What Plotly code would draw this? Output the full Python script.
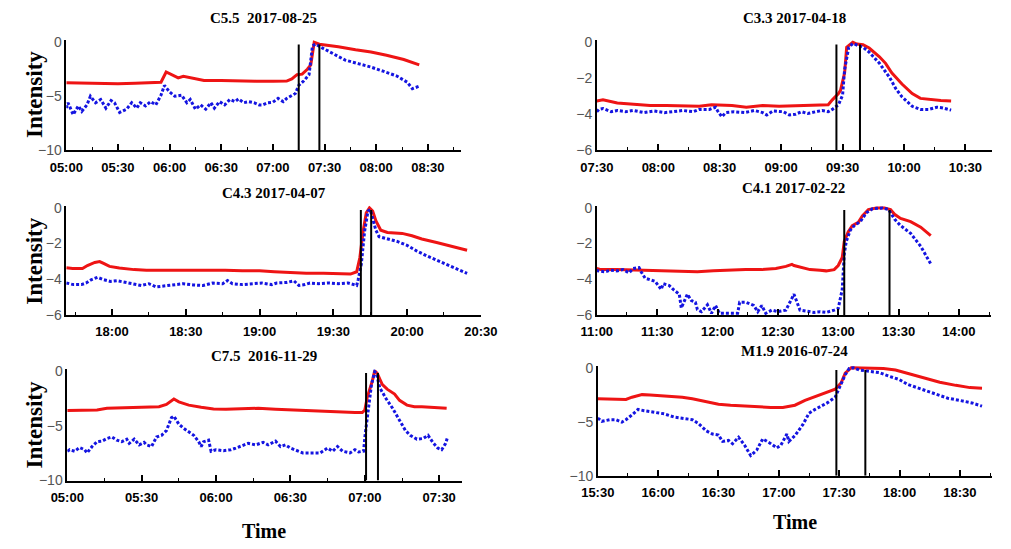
import pandas as pd
import plotly.graph_objects as go

# ---------------- data ----------------
p1_date = "2017-08-25"
p1_title = "C5.5  2017-08-25"
p1_red_t = ["05:00","05:10","05:20","05:30","05:40","05:50","05:55","05:58","06:02","06:05","06:08","06:12","06:16","06:20","06:30","06:40","06:50","07:00","07:08","07:11","07:14","07:17","07:20","07:22","07:24","07:27","07:38","07:48","07:57","08:06","08:16","08:25"]
p1_red_v = [-3.75,-3.8,-3.82,-3.85,-3.8,-3.75,-3.7,-2.75,-3.1,-3.3,-3.15,-3.3,-3.45,-3.55,-3.55,-3.6,-3.6,-3.62,-3.6,-3.4,-3.0,-2.95,-2.5,-2.1,0.0,-0.18,-0.41,-0.7,-0.91,-1.2,-1.6,-2.1]
p1_blue_t = ["05:00","05:01","05:04","05:07","05:09","05:12","05:14","05:17","05:20","05:23","05:26","05:28","05:31","05:35","05:38","05:41","05:43","05:46","05:49","05:52","05:55","05:57","06:00","06:03","06:07","06:10","06:12","06:15","06:18","06:21","06:24","06:26","06:29","06:32","06:35","06:38","06:40","06:43","06:46","06:49","06:52","06:54","06:57","07:00","07:03","07:06","07:08","07:11","07:13","07:15","07:18","07:21","07:22","07:23","07:25","07:28","07:35","07:42","07:50","07:57","08:04","08:12","08:18","08:21","08:25"]
p1_blue_v = [-6.1,-5.6,-6.7,-5.9,-6.4,-5.8,-5.0,-5.6,-5.3,-6.1,-5.4,-5.6,-6.5,-6.2,-5.6,-6.1,-5.6,-5.9,-5.5,-5.8,-4.9,-4.0,-4.6,-5.0,-4.9,-5.6,-5.3,-6.2,-5.8,-6.2,-5.6,-6.1,-5.5,-5.8,-5.3,-5.5,-5.25,-5.6,-5.5,-5.6,-5.8,-5.8,-5.6,-5.55,-5.2,-5.5,-5.2,-4.95,-4.75,-4.0,-3.57,-3.0,-1.65,-0.32,-0.18,-0.47,-1.06,-1.65,-2.0,-2.3,-2.68,-3.13,-3.7,-4.3,-4.07]
p1_vlines = ["07:15","07:27"]
p1_xrange = ["05:00","08:49"]
p1_yticks = [-10,-5,0]

p2_date = "2017-04-18"
p2_title = "C3.3 2017-04-18"
p2_red_t = ["07:30","07:33","07:40","07:48","07:56","08:04","08:12","08:20","08:26","08:36","08:43","08:51","08:59","09:07","09:15","09:23","09:25","09:28","09:29","09:31","09:32","09:35","09:37","09:40","09:43","09:48","09:51","09:54","09:59","10:04","10:08","10:13","10:18","10:23"]
p2_red_v = [-3.26,-3.2,-3.38,-3.47,-3.52,-3.52,-3.56,-3.56,-3.47,-3.52,-3.61,-3.52,-3.56,-3.52,-3.5,-3.47,-3.2,-2.85,-2.67,-1.7,-0.28,0.0,-0.1,-0.14,-0.32,-0.81,-1.17,-1.7,-2.32,-2.85,-3.12,-3.2,-3.24,-3.26]
p2_blue_t = ["07:30","07:31","07:33","07:37","07:40","07:44","07:48","07:53","07:58","08:03","08:07","08:12","08:17","08:20","08:25","08:28","08:29","08:31","08:33","08:37","08:42","08:47","08:51","08:53","08:56","09:01","09:04","09:07","09:10","09:13","09:17","09:20","09:23","09:25","09:28","09:30","09:31","09:33","09:35","09:38","09:40","09:43","09:48","09:53","09:56","09:59","10:04","10:08","10:12","10:16","10:19","10:23"]
p2_blue_v = [-3.86,-3.73,-3.68,-3.86,-3.79,-3.86,-3.79,-3.91,-3.82,-3.91,-3.86,-3.79,-3.86,-3.73,-3.73,-3.61,-3.82,-4.14,-3.91,-3.86,-3.91,-3.79,-3.91,-4.04,-3.82,-3.86,-4.04,-4.0,-3.86,-3.96,-3.86,-3.79,-3.86,-3.73,-3.47,-2.94,-1.52,-0.28,-0.07,-0.19,-0.28,-0.55,-1.17,-1.96,-2.58,-3.03,-3.56,-3.73,-3.73,-3.61,-3.65,-3.77]
p2_vlines = ["09:27","09:38:30"]
p2_xrange = ["07:30","10:43"]
p2_yticks = [-6,-4,-2,0]

p3_date = "2017-04-07"
p3_title = "C4.3 2017-04-07"
p3_red_t = ["17:41:25","17:44","17:48","17:50","17:53","17:55","17:57","17:59","18:03","18:09","18:14","18:20","18:27","18:33","18:40","18:46","18:53","19:00","19:06","19:13","19:19","19:26","19:32","19:37","19:39:30","19:40:48","19:42:06","19:43:24","19:44:42","19:46","19:47:18","19:49:18","19:52","19:56","19:58","20:02","20:06","20:12","20:17","20:21","20:24:24"]
p3_red_v = [-3.35,-3.4,-3.4,-3.23,-3.06,-3.01,-3.14,-3.28,-3.37,-3.46,-3.49,-3.49,-3.46,-3.46,-3.49,-3.49,-3.53,-3.53,-3.58,-3.64,-3.67,-3.67,-3.71,-3.71,-3.58,-2.78,-1.34,-0.27,0.0,-0.18,-0.72,-1.25,-1.38,-1.4,-1.43,-1.56,-1.74,-1.94,-2.11,-2.24,-2.37]
p3_blue_t = ["17:41:25","17:44:18","17:47:34","17:49:30","17:51:30","17:54:06","17:56:42","17:59:20","18:02","18:06","18:10","18:12","18:15","18:18","18:22","18:26","18:29","18:33","18:37","18:41","18:45","18:47","18:49","18:53","18:57","19:01","19:05","19:07","19:11","19:14","19:16","19:18:30","19:20:30","19:24","19:28","19:32","19:36","19:39:30","19:40:06","19:41:24","19:42:42","19:44:06","19:45","19:46","19:47:18","19:48:36","19:52","19:56","20:00","20:04","20:08","20:12","20:15:30","20:19:24","20:22","20:24:24"]
p3_blue_v = [-4.21,-4.3,-4.3,-4.21,-4.03,-3.89,-4.03,-4.12,-4.08,-4.21,-4.3,-4.35,-4.25,-4.43,-4.35,-4.3,-4.25,-4.32,-4.35,-4.21,-4.25,-4.07,-4.25,-4.3,-4.25,-4.21,-4.3,-4.21,-4.18,-4.09,-4.35,-4.3,-4.21,-4.25,-4.21,-4.25,-4.21,-4.35,-4.03,-3.14,-1.34,-0.18,-0.09,-0.63,-1.25,-1.61,-1.74,-1.88,-2.1,-2.42,-2.69,-2.92,-3.14,-3.35,-3.49,-3.67]
p3_vlines = ["19:41:12","19:45:24"]
p3_xrange = ["17:41:25","20:30"]
p3_yticks = [-6,-4,-2,0]

p4_date = "2017-02-22"
p4_title = "C4.1 2017-02-22"
p4_red_t = ["11:00","11:02","11:10","11:18","11:26","11:34","11:42","11:50","11:58","12:06","12:14","12:22","12:29","12:34","12:37","12:38","12:42","12:46","12:51","12:54","12:58","13:00","13:02","13:03","13:05","13:07","13:10","13:12","13:15","13:19","13:23","13:26","13:28","13:31","13:36","13:41","13:46"]
p4_red_v = [-3.4,-3.46,-3.46,-3.49,-3.49,-3.53,-3.55,-3.58,-3.53,-3.49,-3.46,-3.46,-3.4,-3.28,-3.17,-3.23,-3.35,-3.46,-3.49,-3.53,-3.46,-3.23,-2.78,-1.88,-1.34,-0.99,-0.81,-0.45,-0.09,0.0,0.0,-0.09,-0.36,-0.59,-0.77,-1.08,-1.56]
p4_blue_t = ["11:00","11:00:30","11:04","11:07","11:10","11:13","11:16","11:18","11:21","11:22","11:24","11:26","11:29","11:32","11:33","11:36","11:38","11:41","11:42","11:45","11:47","11:49","11:50","11:52","11:55","11:57","11:59","12:01","12:06","12:10","12:11","12:14","12:18","12:20","12:22","12:24","12:27","12:30","12:34","12:37","12:38","12:41","12:45","12:48","12:51","12:54","12:58","13:00","13:02","13:03","13:04","13:06","13:08","13:11","13:14","13:17","13:22","13:25","13:28","13:31","13:36","13:41","13:46"]
p4_blue_v = [-3.46,-3.53,-3.58,-3.49,-3.53,-3.46,-3.64,-3.4,-3.35,-3.58,-3.94,-4.03,-4.12,-4.57,-4.25,-4.35,-4.57,-4.84,-5.61,-4.84,-5.2,-5.29,-5.7,-5.82,-5.43,-5.91,-5.47,-5.91,-5.91,-5.91,-5.29,-5.29,-5.47,-5.82,-5.47,-5.91,-5.73,-5.82,-5.73,-5.0,-4.84,-5.73,-5.79,-5.86,-5.82,-5.86,-5.73,-5.64,-4.57,-2.6,-1.88,-1.25,-0.99,-0.77,-0.27,-0.05,0.0,-0.09,-0.63,-0.99,-1.43,-2.15,-3.14]
p4_vlines = ["13:03","13:25:30"]
p4_xrange = ["11:00","14:16"]
p4_yticks = [-6,-4,-2,0]

p5_date = "2016-11-29"
p5_title = "C7.5  2016-11-29"
p5_red_t = ["05:00","05:06","05:12","05:16","05:21","05:27","05:32","05:37","05:40","05:42","05:43","05:45","05:49","05:54","05:59","06:04","06:11","06:17","06:24","06:30","06:37","06:43","06:50","06:56","06:59","07:00","07:01","07:03","07:04","07:05","07:07","07:09","07:12","07:14","07:17","07:20","07:23","07:29","07:33"]
p5_red_v = [-3.62,-3.62,-3.57,-3.42,-3.38,-3.33,-3.33,-3.28,-3.07,-2.7,-2.58,-2.84,-3.13,-3.33,-3.48,-3.51,-3.48,-3.42,-3.51,-3.57,-3.62,-3.71,-3.74,-3.8,-3.8,-3.57,-2.4,-0.96,0.0,-0.23,-1.25,-1.68,-2.12,-2.7,-3.13,-3.28,-3.28,-3.33,-3.42]
p5_blue_t = ["05:00","05:01","05:03","05:05","05:07","05:08","05:10","05:12","05:14","05:16","05:18","05:20","05:22","05:24","05:25","05:27","05:29","05:31","05:32","05:34","05:36","05:38","05:40","05:42","05:43","05:45","05:47","05:49","05:51","05:53","05:54","05:55","05:57","05:58","06:00","06:03","06:06","06:08","06:11","06:13","06:16","06:19","06:21","06:24","06:26","06:28","06:30","06:32","06:33","06:35","06:38","06:42","06:45","06:47","06:49","06:51","06:54","06:56","06:57:30","06:59:30","07:00:06","07:01:24","07:02:42","07:04","07:04:40","07:06","07:08:36","07:11:12","07:13:48","07:16:24","07:18:18","07:21","07:23:30","07:25:30","07:27:24","07:29:24","07:31","07:32:36","07:33:12"]
p5_blue_v = [-7.33,-7.19,-7.33,-6.99,-7.19,-7.48,-6.9,-6.46,-6.41,-6.17,-6.03,-6.32,-6.46,-6.23,-6.61,-6.23,-6.75,-6.52,-6.75,-6.9,-6.03,-5.88,-5.45,-4.29,-4.14,-4.87,-5.25,-5.54,-5.88,-6.46,-6.9,-6.46,-6.32,-7.33,-7.19,-7.28,-7.19,-7.04,-6.75,-6.61,-6.75,-6.52,-6.75,-6.41,-6.9,-6.75,-7.04,-7.19,-7.33,-7.48,-7.48,-7.48,-7.04,-7.33,-6.9,-7.33,-7.48,-7.19,-7.39,-7.33,-5.88,-3.57,-1.25,-0.09,-0.23,-1.54,-2.55,-3.42,-4.43,-5.45,-5.88,-6.23,-6.17,-5.88,-6.52,-7.04,-7.19,-6.61,-6.17]
p5_vlines = ["07:00:30","07:05:18"]
p5_xrange = ["05:00","07:39"]
p5_yticks = [-10,-5,0]

p6_date = "2016-07-24"
p6_title = "M1.9 2016-07-24"
p6_red_t = ["15:30","15:36","15:40","15:44","15:47","15:52","15:56","16:04","16:12","16:17","16:24","16:30","16:36","16:43","16:49","16:56","17:02","17:08","17:13","17:18","17:23","17:28","17:31","17:33","17:36","17:39","17:45","17:52","17:58","18:04","18:12","18:20","18:28","18:35","18:41"]
p6_red_v = [-2.88,-2.91,-2.94,-2.94,-2.73,-2.49,-2.52,-2.61,-2.73,-2.88,-3.18,-3.38,-3.47,-3.56,-3.62,-3.68,-3.68,-3.47,-3.03,-2.67,-2.37,-1.99,-1.39,-0.5,0.0,0.0,0.0,-0.06,-0.21,-0.5,-0.95,-1.34,-1.63,-1.84,-1.9]
p6_blue_t = ["15:30","15:32","15:36","15:39","15:42","15:44","15:47","15:50","15:53","15:58","16:03","16:08","16:12","16:17","16:20","16:24","16:27","16:30","16:32","16:35","16:37","16:40","16:43","16:46","16:49","16:52","16:56","16:59","17:01","17:04","17:05","17:08","17:12","17:15","17:18","17:21","17:24","17:28","17:31","17:33","17:35","17:37","17:40","17:45","17:50","17:55","18:00","18:04","18:11","18:17","18:24","18:30","18:36","18:41"]
p6_blue_v = [-4.66,-4.96,-4.81,-4.81,-5.04,-4.81,-4.36,-3.86,-3.98,-4.15,-4.27,-4.57,-4.69,-4.81,-5.16,-5.85,-6.14,-6.23,-6.82,-6.73,-7.03,-6.44,-7.18,-8.13,-7.63,-6.59,-7.03,-7.42,-7.18,-6.14,-6.82,-6.29,-5.25,-4.21,-3.86,-3.56,-3.26,-2.73,-1.54,-0.65,-0.06,0.0,-0.21,-0.36,-0.45,-0.8,-1.1,-1.54,-1.99,-2.43,-2.82,-3.03,-3.26,-3.56]
p6_vlines = ["17:28:36","17:43"]
p6_xrange = ["15:30","18:46"]
p6_yticks = [-10,-5,0]

# ---------------- layout geometry (pixels) ----------------
W, H = 1011, 549
panels = [
    dict(date=p1_date, title=p1_title, rt=p1_red_t, rv=p1_red_v, bt=p1_blue_t, bv=p1_blue_v,
         vl=p1_vlines, xr=p1_xrange, yt=p1_yticks, px=(51, 459), py=(35, 148), ty=12),
    dict(date=p2_date, title=p2_title, rt=p2_red_t, rv=p2_red_v, bt=p2_blue_t, bv=p2_blue_v,
         vl=p2_vlines, xr=p2_xrange, yt=p2_yticks, px=(600, 1009), py=(35, 148), ty=12),
    dict(date=p3_date, title=p3_title, rt=p3_red_t, rv=p3_red_v, bt=p3_blue_t, bv=p3_blue_v,
         vl=p3_vlines, xr=p3_xrange, yt=p3_yticks, px=(51, 480), py=(205, 317), ty=192),
    dict(date=p4_date, title=p4_title, rt=p4_red_t, rv=p4_red_v, bt=p4_blue_t, bv=p4_blue_v,
         vl=p4_vlines, xr=p4_xrange, yt=p4_yticks, px=(600, 1008), py=(205, 317), ty=187),
    dict(date=p5_date, title=p5_title, rt=p5_red_t, rv=p5_red_v, bt=p5_blue_t, bv=p5_blue_v,
         vl=p5_vlines, xr=p5_xrange, yt=p5_yticks, px=(52, 460), py=(372, 487), ty=359),
    dict(date=p6_date, title=p6_title, rt=p6_red_t, rv=p6_red_v, bt=p6_blue_t, bv=p6_blue_v,
         vl=p6_vlines, xr=p6_xrange, yt=p6_yticks, px=(601, 1009), py=(369, 482), ty=354),
]

RED = "rgb(238,20,20)"
BLUE = "rgb(20,20,225)"
TICKFONT = "Liberation Sans, Arial, sans-serif"
SERIF = "Liberation Serif, Times New Roman, serif"


def ts(date, lst):
    return pd.to_datetime([f"{date} {t}" for t in lst], format="mixed")


fig = go.Figure()
layout = dict(
    width=W, height=H, margin=dict(l=0, r=0, t=0, b=0),
    paper_bgcolor="white", plot_bgcolor="white", showlegend=False,
    annotations=[], shapes=[],
)

for i, p in enumerate(panels):
    n = "" if i == 0 else str(i + 1)
    xa, ya = "x" + n, "y" + n
    assert len(p["rt"]) == len(p["rv"]) and len(p["bt"]) == len(p["bv"])
    fig.add_trace(go.Scatter(x=ts(p["date"], p["rt"]), y=p["rv"], mode="lines",
                             line=dict(color=RED, width=3), xaxis=xa, yaxis=ya))
    fig.add_trace(go.Scatter(x=ts(p["date"], p["bt"]), y=p["bv"], mode="lines",
                             line=dict(color=BLUE, width=3, dash="3px,2px"), xaxis=xa, yaxis=ya))
    ymin = min(p["yt"])
    for v in p["vl"]:
        xv = ts(p["date"], [v])[0]
        layout["shapes"].append(dict(type="line", xref=xa, yref=ya,
                                     x0=xv, x1=xv, y0=ymin, y1=-0.02 * abs(ymin),
                                     line=dict(color="black", width=2)))
    xr = ts(p["date"], p["xr"])
    layout["xaxis" + n] = dict(
        domain=[p["px"][0] / W, p["px"][1] / W], anchor=ya, type="date",
        range=[xr[0], xr[1]], tick0=f"{p['date']} 00:00", dtick=1800000,
        tickformat="%H:%M", ticks="inside", ticklen=6, tickwidth=2, tickcolor="black",
        minor=dict(ticks="inside", ticklen=3, tickwidth=1, dtick=900000, tickcolor="black"),
        showline=True, linecolor="black", linewidth=1.5, showgrid=False, zeroline=False,
        ticklabelstandoff=4,
        tickfont=dict(family=TICKFONT, size=13, color="black", weight="bold"),
    )
    layout["yaxis" + n] = dict(
        domain=[1 - p["py"][1] / H, 1 - p["py"][0] / H], anchor=xa,
        range=[ymin, 0.02 * abs(ymin)], tickvals=p["yt"], ticks="",
        showline=True, linecolor="black", linewidth=1.5, showgrid=False, zeroline=False,
        tickfont=dict(family=TICKFONT, size=14, color="#555"),
    )
    layout["annotations"].append(dict(
        text=p["title"], xref="paper", yref="paper",
        x=(p["px"][0] + p["px"][1]) / 2 / W, y=1 - p["ty"] / H,
        xanchor="center", yanchor="middle", showarrow=False,
        font=dict(family=SERIF, size=15, color="black", weight="bold")))

for yc in [91, 262, 430]:
    layout["annotations"].append(dict(
        text="Intensity", xref="paper", yref="paper", x=18 / W, y=1 - yc / H,
        xanchor="center", yanchor="middle", textangle=-90, showarrow=False,
        font=dict(family=SERIF, size=23, color="black", weight="bold")))
for xc, yc in [(256, 539), (805, 529)]:
    layout["annotations"].append(dict(
        text="Time", xref="paper", yref="paper", x=xc / W, y=1 - yc / H,
        xanchor="center", yanchor="middle", showarrow=False,
        font=dict(family=SERIF, size=20, color="black", weight="bold")))

fig.update_layout(**layout)
fig.write_html("out.html", config={"displayModeBar": False},
               post_script="document.body.style.margin='0px';")
